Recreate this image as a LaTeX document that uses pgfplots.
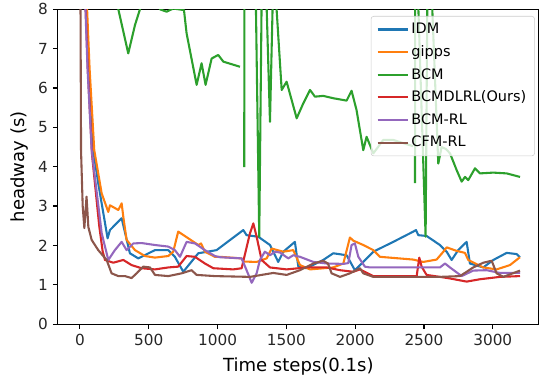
\documentclass[border=0pt]{standalone}
\usepackage{fontspec}
\setmainfont{DejaVu Sans}
\usepackage{pgfplots}
\pgfplotsset{compat=1.18}
\usetikzlibrary{calc}
\definecolor{cIDM}{HTML}{1F77B4}
\definecolor{cGipps}{HTML}{FF7F0E}
\definecolor{cBCM}{HTML}{2CA02C}
\definecolor{cOurs}{HTML}{D62728}
\definecolor{cBCMRL}{HTML}{9467BD}
\definecolor{cCFMRL}{HTML}{8C564B}
\begin{document}
\begin{tikzpicture}
\begin{axis}[
  scale only axis, width=346.5pt, height=226.6pt,
  xmin=-162, xmax=3336, ymin=0, ymax=8,
  xtick={0,500,1000,1500,2000,2500,3000}, ytick={0,1,2,3,4,5,6,7,8},
  tick align=outside, major tick length=3.5pt,
  xtick pos=bottom, ytick pos=left,
  tick style={black, line width=0.8pt},
  axis line style={line width=0.8pt},
  /pgf/number format/assume math mode=true,
  /pgf/number format/1000 sep={},
  ticklabel style={font=\fontsize{11}{13}\selectfont, text=black!85},
  xlabel={Time steps(0.1s)}, ylabel={headway (s)},
  label style={font=\fontsize{13}{15}\selectfont},
  xlabel style={yshift=-2pt},
  unbounded coords=jump,
  every axis plot/.append style={line width=1.5pt, line join=round},
  legend style={at={(1,1)}, anchor=north east, xshift=-3pt, yshift=-4.8pt,
    fill=white, fill opacity=0.8, text opacity=1, draw=black!20,
    rounded corners=2pt, font=\fontsize{10.4}{12.5}\selectfont, row sep=3pt,
    inner xsep=4pt, inner ysep=3pt},
  legend cell align=left,
  legend image code/.code={\draw[#1] (0pt,0pt) -- (21.6pt,0pt);},
]
% IDM
\addplot[cIDM] coordinates {
(0,20)(35,9)(60,6.5)(97,4.42)(133,3.58)(201,2.18)(218,2.39)(303,2.69)(363,1.80)(424,1.67)(545,1.88)(642,1.88)(690,1.71)(751,1.33)(860,1.80)(993,1.88)(1187,2.39)(1211,2.26)(1296,2.22)(1381,2.01)(1441,1.58)(1478,1.84)(1562,2.09)(1587,1.46)(1647,1.42)(1768,1.63)(1841,1.80)(1938,1.75)(1998,1.37)(2132,1.84)(2277,2.09)(2422,2.35)(2442,2.39)(2459,2.26)(2519,2.24)(2616,2.01)(2665,1.84)(2701,1.63)(2749,1.88)(2810,2.09)(2834,1.54)(2931,1.44)(3004,1.63)(3101,1.81)(3173,1.78)(3198,1.70)
};
\addlegendentry{IDM}
% gipps
\addplot[cGipps] coordinates {
(0,20)(40,9)(70,6.5)(104,4.42)(158,3.32)(206,2.85)(218,3.02)(279,2.90)(303,3.07)(315,2.73)(339,2.14)(400,1.88)(472,1.73)(545,1.69)(642,1.73)(678,1.84)(714,2.35)(787,2.18)(860,2.01)(880,2.05)(908,1.84)(981,1.71)(1017,1.71)(1175,1.67)(1187,1.59)(1284,1.58)(1357,1.67)(1393,1.92)(1478,1.84)(1550,1.88)(1599,1.50)(1672,1.39)(1841,1.44)(1914,1.54)(1962,2.20)(1987,2.12)(2059,2.01)(2132,1.88)(2180,1.71)(2422,1.64)(2495,1.58)(2592,1.64)(2641,1.84)(2665,1.95)(2738,1.86)(2798,1.81)(2822,1.63)(2931,1.44)(3028,1.39)(3125,1.50)(3198,1.70)
};
\addlegendentry{gipps}
% BCM
\addplot[cBCM] coordinates {
(0,12)(250,8.6)(279,8.0)(351,6.88)(400,7.6)(436,8.0)(460,8.6)(560,8.6)(581,8.0)(630,7.94)(678,8.02)(756,7.98)(775,7.39)(848,6.08)(884,6.63)(913,6.08)(957,6.75)(1005,6.84)(1042,6.67)(1163,6.54)(1178,nan)(1194,3.99)(1195,8.5)(1277,8.5)(1303,2.22)(1321,8.5)(1353,8.5)(1381,5.14)(1403,8.5)(1420,8.5)(1466,5.95)(1502,6.16)(1575,5.23)(1623,5.61)(1672,5.95)(1708,5.78)(1768,5.80)(1841,5.74)(1938,5.68)(1974,5.93)(2010,5.44)(2059,4.42)(2083,4.76)(2132,4.34)(2204,4.68)(2277,4.68)(2422,4.52)(2428,nan)(2435,3.58)(2436,8.5)(2455,8.5)(2512,2.22)(2525,8.5)(2555,8.5)(2604,4.08)(2628,4.5)(2660,4.45)(2689,4.34)(2738,3.91)(2774,3.62)(2798,3.74)(2822,3.66)(2871,3.96)(2907,3.83)(3004,3.85)(3101,3.83)(3198,3.74)
};
\addlegendentry{BCM}
% BCMDLRL (Ours)
\addplot[cOurs] coordinates {
(0,20)(32,9)(57,6.5)(88,4.3)(140,2.5)(165,1.85)(182,1.63)(242,1.56)(315,1.63)(375,1.50)(448,1.42)(545,1.39)(642,1.44)(714,1.46)(775,1.73)(836,1.71)(908,1.54)(969,1.42)(1114,1.39)(1175,1.42)(1235,2.30)(1260,2.56)(1284,2.22)(1320,1.63)(1381,1.44)(1502,1.39)(1647,1.44)(1793,1.44)(1890,1.37)(1986,1.33)(2035,1.39)(2132,1.22)(2447,1.22)(2466,1.69)(2483,1.46)(2519,1.25)(2616,1.20)(2689,1.16)(2810,1.08)(2907,1.14)(3052,1.20)(3198,1.22)
};
\addlegendentry{BCMDLRL(Ours)}
% BCM-RL
\addplot[cBCMRL] coordinates {
(0,20)(30,9)(55,6.5)(85,4.42)(158,2.31)(206,1.63)(254,1.88)(303,2.09)(339,1.88)(388,2.05)(448,2.06)(545,2.01)(642,1.97)(690,1.88)(727,1.71)(775,2.09)(836,2.05)(908,1.88)(981,1.73)(1017,1.70)(1175,1.67)(1211,1.37)(1248,1.05)(1284,1.29)(1308,1.63)(1344,1.84)(1381,1.75)(1417,1.84)(1453,1.82)(1514,1.67)(1550,1.75)(1599,1.71)(1696,1.58)(1793,1.54)(1914,1.53)(1950,1.55)(1974,2.01)(1998,2.05)(2023,1.71)(2071,1.46)(2108,1.44)(2447,1.44)(2616,1.44)(2653,1.54)(2689,1.44)(2774,1.22)(2858,1.36)(2955,1.37)(3052,1.30)(3198,1.30)
};
\addlegendentry{BCM-RL}
% CFM-RL
\addplot[cCFMRL] coordinates {
(0,12)(8,4.4)(20,3.0)(32,2.44)(48,3.24)(61,2.47)(85,2.14)(133,1.88)(194,1.63)(230,1.29)(279,1.22)(327,1.22)(375,1.17)(412,1.29)(460,1.46)(509,1.44)(545,1.25)(642,1.22)(739,1.29)(811,1.37)(848,1.25)(981,1.22)(1235,1.20)(1405,1.30)(1502,1.25)(1599,1.37)(1696,1.54)(1768,1.61)(1802,1.54)(1829,1.29)(1890,1.20)(1962,1.29)(2035,1.42)(2059,1.29)(2132,1.20)(2616,1.20)(2762,1.22)(2858,1.44)(2931,1.56)(2992,1.61)(3028,1.29)(3077,1.20)(3198,1.36)
};
\addlegendentry{CFM-RL}
\end{axis}
\pgfresetboundingbox
\path ($(current axis.south west)+(-41.5pt,-41pt)$) rectangle ($(current axis.north east)+(0pt,6.7pt)$);
\end{tikzpicture}
\end{document}
